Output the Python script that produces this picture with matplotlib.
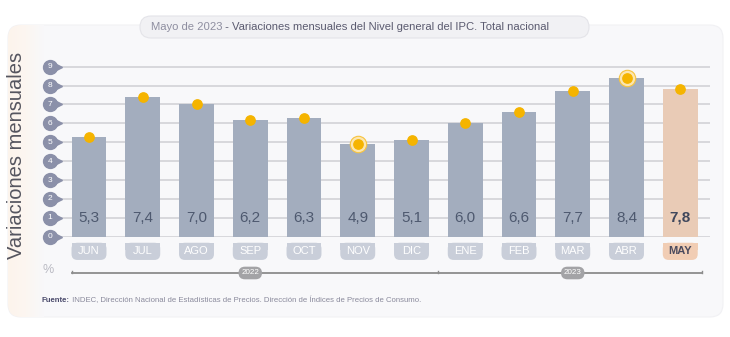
import numpy as np
import matplotlib.pyplot as plt
from matplotlib.patches import FancyBboxPatch, Rectangle
from matplotlib.colors import LinearSegmentedColormap

plt.rcParams['font.family'] = ['Liberation Sans', 'DejaVu Sans']

months = ['JUN', 'JUL', 'AGO', 'SEP', 'OCT', 'NOV', 'DIC', 'ENE', 'FEB', 'MAR', 'ABR', 'MAY']
values = [5.3, 7.4, 7.0, 6.2, 6.3, 4.9, 5.1, 6.0, 6.6, 7.7, 8.4, 7.8]
years = ['2022', '2023']
year_groups = [(0, 6), (7, 11)]
highlight = ['NOV', 'ABR']
current = 'MAY'

title_a = 'Mayo de 2023'
title_b = ' - Variaciones mensuales del Nivel general del IPC. Total nacional'
source_a = 'Fuente:'
source_b = ' INDEC, Dirección Nacional de Estadísticas de Precios. Dirección de Índices de Precios de Consumo.'

bar_col = '#a3adbe'
cur_col = '#e9cbb6'
pill_col = '#c9ced9'
cur_pill = '#f1cdb4'
dot_col = '#f5b400'
bubble_col = '#8b90a9'

W, H = 730, 337
fig = plt.figure(figsize=(W / 100, H / 100), dpi=100)
fig.patch.set_facecolor('white')

# background panel in pixel coordinates
bg = fig.add_axes([0, 0, 1, 1], zorder=0)
bg.set_xlim(0, W)
bg.set_ylim(H, 0)
bg.axis('off')
panel = FancyBboxPatch((8, 25), 715, 292, boxstyle='round,pad=0,rounding_size=13',
                       facecolor='#f8f8fa', edgecolor='#f1f1f4', lw=0.8)
bg.add_patch(panel)
fade = LinearSegmentedColormap.from_list('fade', ['#fdf4ec', '#fcf6f1', '#f8f8fa'])
grad = bg.imshow(np.linspace(0, 1, 64)[None, :], cmap=fade, aspect='auto',
                 extent=(8, 44, 317, 25), zorder=1)
grad.set_clip_path(panel)

title_box = FancyBboxPatch((140, 16), 449, 22, boxstyle='round,pad=0,rounding_size=11',
                           facecolor='#f1f1f4', edgecolor='#e4e4e9', lw=0.8, zorder=2)
bg.add_patch(title_box)
t1 = bg.text(151, 27.5, title_a, color='#8e8ea0', fontsize=8.1, va='center', zorder=3)
bg.annotate(title_b, xy=(1, 0), xycoords=t1, va='bottom', color='#5b5b70',
            fontsize=8.1, zorder=3)

s1 = bg.text(42, 301, source_a, color='#4b4b6c', fontsize=5.6, fontweight='bold', va='center')
bg.annotate(source_b, xy=(1, 0), xycoords=s1, va='bottom', color='#8a8a9c', fontsize=5.6)

bg.text(17, 155, 'Variaciones mensuales', rotation=90, ha='center', va='center',
        fontsize=14.5, color='#55555f')

# main chart: 0 at y=236.7px, 18.9 px per unit, bars 53.75 px apart starting at x=89
ax = fig.add_axes([60 / W, (H - 236.7) / H, 650 / W, 9.3 * 18.9 / H], zorder=1)
ax.set_facecolor('none')
ax.set_xlim((60 - 89) / 53.75, (710 - 89) / 53.75)
ax.set_ylim(0, 9.3)
for s in ax.spines.values():
    s.set_visible(False)
ax.set_xticks([])
ax.set_yticks([])

x = np.arange(len(months))
for v in range(10):
    ax.axhline(v, color='#d8d8dc', lw=1.4, zorder=0)

colors = [cur_col if m == current else bar_col for m in months]
ax.bar(x, values, width=0.65, color=colors, zorder=2)

# y tick bubbles
bx = (50 - 89) / 53.75
tx = (57 - 89) / 53.75
for v in range(10):
    ax.plot(tx, v, marker='>', ms=7, color=bubble_col, clip_on=False, zorder=3)
    ax.plot(bx, v, marker='o', ms=10, color=bubble_col, clip_on=False, zorder=4)
    ax.text(bx, v, str(v), color='white', fontsize=6, ha='center', va='center',
            zorder=5, clip_on=False)

# dots on top of the bars
for i, (m, v) in enumerate(zip(months, values)):
    if m in highlight:
        ax.scatter(i, v, s=140, facecolor='#fce6b0', edgecolor='#f7c440', lw=0.8,
                   zorder=5, clip_on=False)
ax.scatter(x, values, s=45, color=dot_col, zorder=6, clip_on=False)

# value labels and month pills
asp = 53.75 / 18.9
for i, (m, v) in enumerate(zip(months, values)):
    cur = m == current
    ax.text(i, 1.0, f'{v:.1f}'.replace('.', ','), ha='center', va='center',
            fontsize=11, color='#3f475c' if cur else '#4e596f',
            fontweight='bold' if cur else 'normal', zorder=3)
    pc = cur_pill if cur else pill_col
    ax.add_patch(FancyBboxPatch((i - 0.325, -1.23), 0.65, 0.91,
                                boxstyle='round,pad=0,rounding_size=0.11',
                                mutation_aspect=asp, facecolor=pc, edgecolor='none',
                                clip_on=False, zorder=2))
    ax.add_patch(Rectangle((i - 0.325, -0.7), 0.65, 0.38, facecolor=pc,
                           edgecolor='none', clip_on=False, zorder=2))
    ax.text(i, -0.78, m, ha='center', va='center', fontsize=8,
            color='#4a4a5e' if cur else 'white',
            fontweight='bold' if cur else 'normal', zorder=3, clip_on=False)

ax.text((48 - 89) / 53.75, -1.76, '%', ha='center', va='center', fontsize=9,
        color='#b9b9c2', clip_on=False)

# year brackets
yb = -1.92
left, mid, right = -0.325, 6.5, 11.4
ax.plot([left, right], [yb, yb], color='#8c8c8c', lw=1.3, clip_on=False, zorder=2)
for xx in (left, mid, right):
    ax.plot([xx, xx], [yb, yb + 0.12], color='#8c8c8c', lw=1.0, clip_on=False, zorder=2)
for yr, (a, b) in zip(years, year_groups):
    ax.text((a + b) / 2, yb, yr, ha='center', va='center', fontsize=5.8, color='white',
            bbox=dict(boxstyle='round,pad=0.35,rounding_size=0.8', facecolor='#a3a3a6',
                      edgecolor='none'), zorder=3, clip_on=False)

fig.savefig('out.png', dpi=100)
